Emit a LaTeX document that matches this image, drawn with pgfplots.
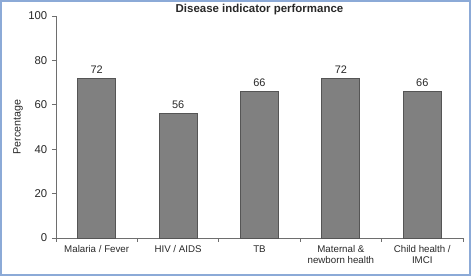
\documentclass[border=0pt]{standalone}
\usepackage{fontspec}
\setmainfont{Liberation Sans}
\usepackage{pgfplots}
\pgfplotsset{compat=1.18}
\definecolor{barfill}{RGB}{128,128,128}
\definecolor{barline}{RGB}{85,85,85}
\definecolor{axisgray}{RGB}{110,110,110}
\definecolor{txt}{RGB}{40,40,40}
\definecolor{frameblue}{RGB}{140,170,215}

\begin{document}
\begin{tikzpicture}
\useasboundingbox (0,0) rectangle (354pt,207.75pt);
\draw[frameblue, line width=0.8pt] (0.75pt,1.5pt) rectangle (352.5pt,207pt);
\begin{axis}[
    at={(42pt,29.25pt)},
    anchor=south west,
    scale only axis,
    width=305.25pt,
    height=166.5pt,
    xmin=-0.5, xmax=4.5,
    ymin=0, ymax=100,
    ytick={0,20,...,100},
    xtick={-0.5,0.5,...,4.5},
    xticklabels={},
    extra x ticks={0,1,2,3,4},
    extra x tick labels={Malaria / Fever, HIV / AIDS, TB, Maternal \&\\newborn health, Child health /\\IMCI},
    extra x tick style={tick style={draw=none}},
    x tick label style={font=\fontsize{7.3}{8.2}\selectfont, align=center, text=txt, anchor=north, yshift=1pt},
    y tick label style={font=\fontsize{8.5}{10}\selectfont, text=txt},
    /pgf/number format/assume math mode=true,
    axis x line*=bottom,
    axis y line*=left,
    axis line style={axisgray, line width=0.6pt},
    tick style={axisgray, line width=0.6pt},
    tick align=outside,
    major tick length=3pt,
    ylabel={Percentage},
    ylabel style={font=\fontsize{8}{9}\selectfont, text=txt, at={(axis description cs:-0.0934,0.5)}, anchor=center},
    title={\textbf{Disease indicator performance}},
    title style={font=\fontsize{8.6}{10}\selectfont, text=txt, at={(axis description cs:0.5,1)}, anchor=center, yshift=-1.5pt},
    ybar,
    bar width=28.5pt,
    nodes near coords,
    nodes near coords style={font=\fontsize{8.2}{9}\selectfont, text=txt, /pgf/number format/assume math mode=true},
    clip=false,
]
\addplot[fill=barfill, draw=barline, line width=0.6pt] coordinates {
    (0,72) (1,56) (2,66) (3,72) (4,66)
};
\end{axis}
\end{tikzpicture}
\end{document}
